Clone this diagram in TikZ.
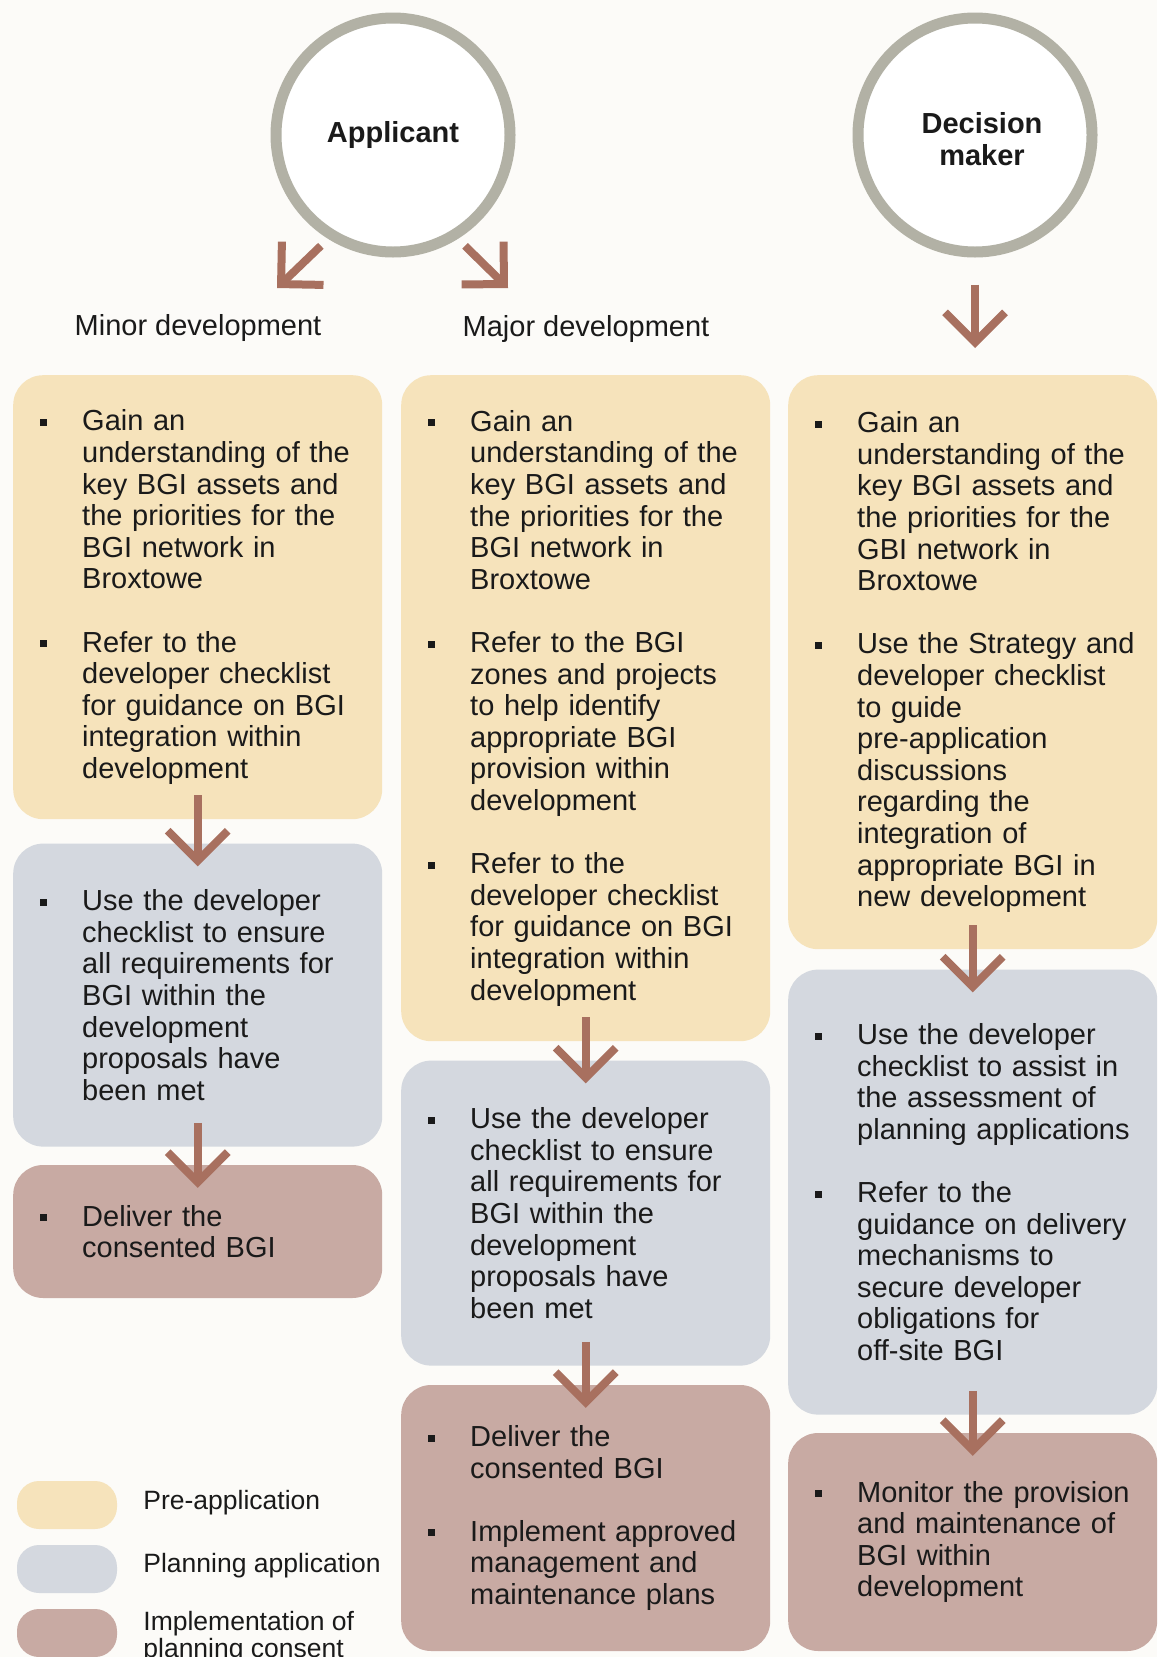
\documentclass[tikz,border=0pt]{standalone}
\usepackage{fontspec}
\setmainfont{Liberation Sans}
\usetikzlibrary{positioning,arrows.meta}

\definecolor{bgclr}{HTML}{FCFBF8}
\definecolor{preclr}{HTML}{F6E3BB}
\definecolor{planclr}{HTML}{D4D8DF}
\definecolor{implclr}{HTML}{C8AAA3}
\definecolor{arrclr}{HTML}{A8705F}
\definecolor{ringclr}{HTML}{B2B1A5}
\definecolor{inkclr}{HTML}{1A1A1A}

% square bullet hanging in the left margin of a stage box
\newcommand{\bul}{\leavevmode\llap{\rule[0.17em]{7pt}{7pt}\hspace{35pt}}}
\newcommand{\items}[1]{\leftskip=69pt\relax #1\par}

\begin{document}
\begin{tikzpicture}[
    x=1pt,y=-1pt,
    every node/.style={text=inkclr},
    actor/.style={circle,draw=ringclr,line width=11pt,fill=white,minimum size=234pt,
      inner sep=0pt,align=center,font=\fontsize{29pt}{31pt}\selectfont\bfseries},
    stage/.style={rounded corners=30pt,minimum width=369pt,text width=369pt,inner xsep=0pt,
      inner ysep=0pt,align=left,anchor=north west,font=\fontsize{29pt}{31.6pt}\selectfont},
    pill/.style={rounded corners=22pt,minimum width=100pt,minimum height=48pt,inner sep=0pt},
    legtext/.style={inner sep=0pt,align=left,font=\fontsize{26.5pt}{27.5pt}\selectfont},
    flow/.style={draw=arrclr,line width=8pt,-{Straight Barb[length=30pt,width=60pt,sharp]}}
    ]

    \useasboundingbox (0,0) rectangle (1157,1657);
    \fill[bgclr] (0,0) rectangle (1157,1657);

    \node[actor] (app) at (393,135) {Applicant};
    \node[actor] (dm) at (975,135) {};
    \node[align=center,inner sep=0pt,font=\fontsize{29pt}{32pt}\selectfont\bfseries]
      (dmtext) at (982,139) {Decision\\maker};

    \node[font=\fontsize{29pt}{31pt}\selectfont] (minor) at (198,328) {Minor development};
    \node[font=\fontsize{29pt}{31pt}\selectfont] (major) at (586,329) {Major development};

    \coordinate (minortip) at (277,288);
    \coordinate (majortip) at (508,288);
    \draw[flow,shorten <=10pt] (app.238) -- (minortip);
    \draw[flow,shorten <=10pt] (app.302) -- (majortip);

    % minor development
    \node[stage,fill=preclr,minimum height=444pt] (pre1) at (13,375)
      {\items{\bul Gain an\\understanding of the\\key BGI assets and\\the priorities for the\\BGI network in\\Broxtowe\\[31.6pt]
       \bul Refer to the\\developer checklist\\for guidance on BGI\\integration within\\development}};
    \node[stage,fill=planclr,minimum height=303pt,below=24pt of pre1] (plan1)
      {\items{\bul Use the developer\\checklist to ensure\\all requirements for\\BGI within the\\development\\proposals have\\been met}};
    \node[stage,fill=implclr,minimum height=133pt,below=18pt of plan1] (impl1)
      {\items{\bul Deliver the\\consented BGI}};

    % major development
    \node[stage,fill=preclr,minimum height=666pt] (pre2) at (401,375)
      {\items{\bul Gain an\\understanding of the\\key BGI assets and\\the priorities for the\\BGI network in\\Broxtowe\\[31.6pt]
       \bul Refer to the BGI\\zones and projects\\to help identify\\appropriate BGI\\provision within\\development\\[31.6pt]
       \bul Refer to the\\developer checklist\\for guidance on BGI\\integration within\\development}};
    \node[stage,fill=planclr,minimum height=305pt,below=19pt of pre2] (plan2)
      {\items{\bul Use the developer\\checklist to ensure\\all requirements for\\BGI within the\\development\\proposals have\\been met}};
    \node[stage,fill=implclr,minimum height=266pt,below=19pt of plan2] (impl2)
      {\items{\bul Deliver the\\consented BGI\\[31.6pt]
       \bul Implement approved\\management and\\maintenance plans}};

    % decision maker
    \node[stage,fill=preclr,minimum height=574pt] (pre3) at (788,375)
      {\items{\bul Gain an\\understanding of the\\key BGI assets and\\the priorities for the\\GBI network in\\Broxtowe\\[31.6pt]
       \bul Use the Strategy and\\developer checklist\\to guide\\pre-application\\discussions\\regarding the\\integration of\\appropriate BGI in\\new development}};
    \node[stage,fill=planclr,minimum height=445pt,below=20pt of pre3] (plan3)
      {\items{\bul Use the developer\\checklist to assist in\\the assessment of\\planning applications\\[31.6pt]
       \bul Refer to the\\guidance on delivery\\mechanisms to\\secure developer\\obligations for\\off-site BGI}};
    \node[stage,fill=implclr,minimum height=218pt,below=18pt of plan3] (impl3)
      {\items{\bul Monitor the provision\\and maintenance of\\BGI within\\development}};

    \draw[flow,shorten <=27pt,shorten >=27pt] (dm.south) -- (dm.south |- pre3.north);

    \foreach \a/\b in {pre1/plan1,plan1/impl1,pre2/plan2,plan2/impl2,pre3/plan3,plan3/impl3}
      \draw[flow] ([yshift=24pt]\a.south) -- ([yshift=-23pt]\b.north);

    % legend
    \foreach \clr/\yy/\dy/\txt in {preclr/1505/2/Pre-application,planclr/1569/3/Planning application,
        implclr/1633/-4/{Implementation of\\planning consent}}
      {\node[pill,fill=\clr] (leg\clr) at (67,\yy) {};
       \node[legtext,right=26pt of leg\clr,yshift=\dy pt] (legtxt\clr) {\txt};
      }

  \end{tikzpicture}
\end{document}
